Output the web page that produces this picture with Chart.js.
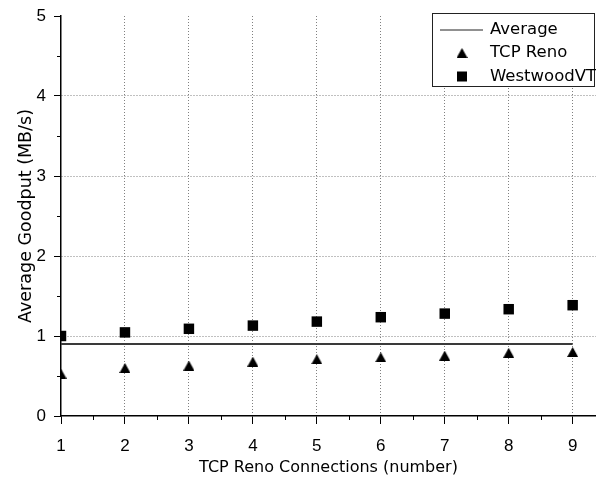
<!DOCTYPE html>
<html>
<head>
<meta charset="utf-8">
<script src="https://cdn.jsdelivr.net/npm/chart.js@4"></script>
<style>
html,body{margin:0;padding:0;background:#fff;}
#c{display:block;}
</style>
</head>
<body>
<canvas id="c" width="596" height="481"></canvas>
<script>
// ---- data ----
const connections = [1, 2, 3, 4, 5, 6, 7, 8, 9];
const tcpReno = [0.53, 0.60, 0.63, 0.68, 0.71, 0.735, 0.755, 0.79, 0.80];
const westwoodVT = [1.0, 1.045, 1.09, 1.13, 1.18, 1.235, 1.28, 1.335, 1.385];
const averageX = [1, 9];
const averageY = [0.90, 0.90];
const xTickValues = [1, 1.5, 2, 2.5, 3, 3.5, 4, 4.5, 5, 5.5, 6, 6.5, 7, 7.5, 8, 8.5, 9];
const yTickValues = [0, 0.5, 1, 1.5, 2, 2.5, 3, 3.5, 4, 4.5, 5];
const seriesNames = ['Average', 'TCP Reno', 'WestwoodVT'];
const xTitle = 'TCP Reno Connections (number)';
const yTitle = 'Average Goodput (MB/s)';

// ---- marker image for triangle (bbox-centred) ----
function triangleImg(w, h) {
  const c = document.createElement('canvas');
  c.width = w; c.height = h;
  const g = c.getContext('2d');
  g.fillStyle = '#000';
  g.beginPath();
  g.moveTo(0, h); g.lineTo(w / 2, 0); g.lineTo(w, h); g.closePath();
  g.fill();
  return c;
}
const tri = triangleImg(11, 10);

const TITLE_FONT = '"DejaVu Sans", sans-serif';
const TICK_FONT = '"Liberation Sans", Arial, sans-serif';

const minorTicks = {
  id: 'minorTicks',
  afterDraw(chart) {
    const ctx = chart.ctx;
    const xs = chart.scales.x, ys = chart.scales.y;
    ctx.save();
    ctx.strokeStyle = '#000';
    ctx.lineWidth = 1;
    xTickValues.filter(v => !Number.isInteger(v)).forEach(v => {
      const px = Math.round(xs.getPixelForValue(v)) + 0.5;
      ctx.beginPath(); ctx.moveTo(px, xs.top); ctx.lineTo(px, xs.top + 4); ctx.stroke();
    });
    yTickValues.filter(v => !Number.isInteger(v)).forEach(v => {
      const py = Math.round(ys.getPixelForValue(v)) + 0.5;
      ctx.beginPath(); ctx.moveTo(ys.right, py); ctx.lineTo(ys.right - 4, py); ctx.stroke();
    });
    ctx.restore();
  }
};

const boxLegend = {
  id: 'boxLegend',
  afterDraw(chart) {
    const ctx = chart.ctx;
    ctx.save();
    ctx.fillStyle = '#fff';
    ctx.fillRect(432, 13, 163, 74);
    ctx.strokeStyle = '#222';
    ctx.lineWidth = 1;
    ctx.strokeRect(432.5, 13.5, 162, 73);
    const rows = [29.5, 53, 76.5];
    ctx.beginPath(); ctx.moveTo(440, rows[0] + 0.5); ctx.lineTo(483, rows[0] + 0.5); ctx.stroke();
    ctx.drawImage(tri, 462 - 5.5, rows[1] - 5);
    ctx.fillStyle = '#000';
    ctx.fillRect(457, rows[2] - 5, 10, 10);
    ctx.font = '16.5px ' + TITLE_FONT;
    ctx.textBaseline = 'middle';
    ctx.textAlign = 'left';
    seriesNames.forEach((n, i) => ctx.fillText(n, 490, rows[i]));
    ctx.restore();
  }
};

new Chart(document.getElementById('c'), {
  type: 'scatter',
  data: {
    datasets: [
      {
        type: 'line',
        label: seriesNames[0],
        data: averageX.map((x, i) => ({x, y: averageY[i]})),
        borderColor: '#3a3a3a',
        borderWidth: 1.8,
        pointRadius: 0,
        fill: false,
        clip: 0
      },
      {
        label: seriesNames[1],
        data: connections.map((x, i) => ({x, y: tcpReno[i]})),
        pointStyle: tri,
        pointRadius: 6,
        backgroundColor: '#000',
        borderWidth: 0,
        clip: 0
      },
      {
        label: seriesNames[2],
        data: connections.map((x, i) => ({x, y: westwoodVT[i]})),
        pointStyle: 'rect',
        pointRadius: 7.4,
        backgroundColor: '#000',
        borderColor: '#000',
        borderWidth: 0,
        clip: 0
      }
    ]
  },
  options: {
    responsive: false,
    animation: false,
    devicePixelRatio: 1,
    layout: {autoPadding: false, padding: {top: 16, right: 0, left: 0, bottom: 0}},
    plugins: {legend: {display: false}, tooltip: {enabled: false}},
    scales: {
      x: {
        type: 'linear',
        min: 1,
        max: 9.365,
        afterBuildTicks: s => { s.ticks = xTickValues.map(v => ({value: v})); },
        afterFit: s => { s.height = 65; s.paddingLeft = 0; s.paddingRight = 0; },
        ticks: {
          autoSkip: false, maxRotation: 0,
          padding: 12,
          color: '#000',
          font: {family: TICK_FONT, size: 17},
          callback: v => Number.isInteger(v) ? String(v) : ''
        },
        grid: {
          color: c => (c.tick && Number.isInteger(c.tick.value) && c.tick.value > 1) ? '#808080' : 'rgba(0,0,0,0)',
          lineWidth: 1,
          tickLength: 8,
          tickColor: c => (c.tick && Number.isInteger(c.tick.value)) ? '#000' : 'rgba(0,0,0,0)',
          tickWidth: 1,
          tickBorderDash: []
        },
        border: {display: true, color: '#000', width: 1.5, dash: [1, 2]},
        title: {
          display: true, text: xTitle, color: '#000',
          font: {family: TITLE_FONT, size: 16},
          padding: {top: 0, bottom: 3.5}
        }
      },
      y: {
        type: 'linear',
        min: 0,
        max: 5,
        afterBuildTicks: s => { s.ticks = yTickValues.map(v => ({value: v})); },
        afterFit: s => { s.width = 61; s.paddingTop = 0; s.paddingBottom = 0; },
        ticks: {
          padding: 8,
          color: '#000',
          font: {family: TICK_FONT, size: 17},
          callback: v => Number.isInteger(v) ? String(v) : ''
        },
        grid: {
          color: c => (c.tick && Number.isInteger(c.tick.value) && c.tick.value > 0 && c.tick.value < 5) ? '#808080' : 'rgba(0,0,0,0)',
          lineWidth: 1,
          tickLength: 7,
          tickColor: c => (c.tick && Number.isInteger(c.tick.value)) ? '#000' : 'rgba(0,0,0,0)',
          tickWidth: 1,
          tickBorderDash: []
        },
        border: {display: true, color: '#000', width: 1.5, dash: [1, 2]},
        title: {
          display: true, text: yTitle, color: '#000',
          font: {family: TITLE_FONT, size: 17.5},
          padding: {top: 16, bottom: 0}
        }
      }
    }
  },
  plugins: [minorTicks, boxLegend]
});
</script>
</body>
</html>
